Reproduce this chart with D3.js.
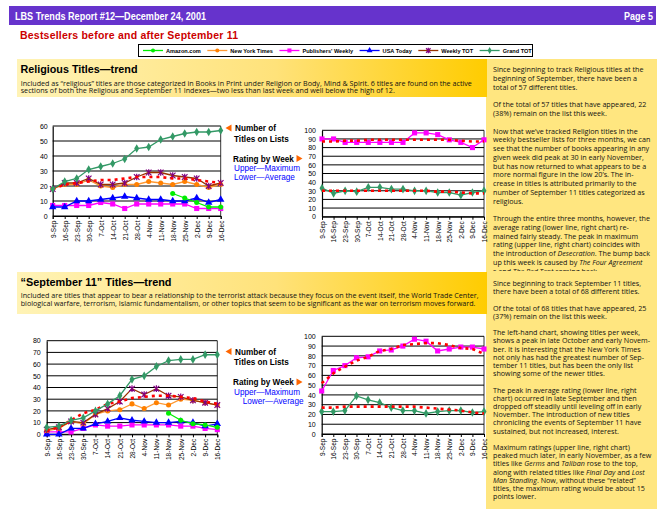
<!DOCTYPE html>
<html><head><meta charset="utf-8">
<script src="https://cdn.jsdelivr.net/npm/d3@7"></script>
<style>body{margin:0;background:#fff}svg{display:block}</style>
</head><body>
<svg id="page" width="661" height="513"></svg>
<script>
// ---------------- DATA ----------------
const weeks = ["9-Sep","16-Sep","23-Sep","30-Sep","7-Oct","14-Oct","21-Oct","28-Oct","4-Nov","11-Nov","18-Nov","25-Nov","2-Dec","9-Dec","16-Dec"];
const N = null;
const seriesNames = ["Amazon.com","New York Times","Publishers' Weekly","USA Today","Weekly TOT","Grand TOT"];

// Religious titles: number of titles on lists
const relAmazon = [N,N,N,N,N,N,N,N,N,N,15,12,9,6,6];
const relNYT    = [18,21,21,24,20,19,21,21,23,22,21,23,21,19,21];
const relPW     = [7,7,7,7,9,8,5,8,8,8,8,8,5,5,5];
const relUSA    = [6,6,10,10,11,12,13,12,11,11,10,10,12,9,11];
const relWeekly = [18,22,22,25,21,21,22,26,29,29,27,26,25,20,22];
const relGrand  = [18,23,25,31,33,35,38,45,46,51,53,55,56,56,57];
const relTrend  = [18,21,22,23,24,24,25,26,26,26,25,25,24,23,22];
// Religious titles: rating by week
const relMax      = [90,90,86,86,86,86,86,86,97,97,95,89,86,80,89];
const relMaxTrend = [87,87,88,88,89,89,89,89,89,89,89,89,88,87,87];
const relAvg      = [33,27,30,29,34,34,32,32,30,30,28,28,25,28,30];
const relAvgTrend = [30,30,30,30,30,30,30,30,30,30,29,29,28,27,27];

// September 11 titles: number of titles on lists
const s11Amazon = [N,N,N,N,N,N,N,N,N,N,18,12,9,8,6];
const s11NYT    = [3,5,11,9,17,20,21,26,22,27,25,30,29,27,25];
const s11PW     = [2,2,2,5,8,7,7,8,8,8,8,7,7,5,4];
const s11USA    = [0,0,5,5,9,11,14,12,11,10,10,11,10,7,9];
const s11Weekly = [4,6,11,10,17,22,28,39,34,39,33,32,29,27,25];
const s11Grand  = [6,7,12,14,20,26,33,47,50,58,63,64,64,68,68];
const s11Trend  = [3,6,12,18,21,26,28,31,32,33,33,32,31,28,26];
// September 11 titles: rating by week
const s11Max      = [44,65,70,78,79,85,86,90,97,95,85,87,89,89,87];
const s11MaxTrend = [52,62,69,75,79,85,87,91,92,93,93,91,88,87,82];
const s11Avg      = [23,23,24,39,35,32,27,24,24,21,23,24,24,22,23];
const s11AvgTrend = [27,27,28,28,28,28,28,28,28,27,26,25,24,22,21];

// Text
const pageTitle = "LBS Trends Report #12\u2014December 24, 2001";
const pageNo = "Page 5";
const mainTitle = "Bestsellers before and after September 11";
const sec1Title = "Religious Titles\u2014trend";
const sec1Desc = ["Included as \u201creligious\u201d titles are those categorized in Books in Print under Religion or Body, Mind & Spirit. 6 titles are found on the active",
  "sections of both the Religious and September 11 Indexes\u2014two less than last week and well below the high of 12."];
const sec2Title = "\u201cSeptember 11\u201d Titles\u2014trend";
const sec2Desc = ["Included are titles that appear to bear a relationship to the terrorist attack because they focus on the event itself, the World Trade Center,",
  "biological warfare, terrorism, Islamic fundamentalism, or other topics that seem to be significant as the war on terrorism moves forward."];
const side1 = [
 "Since beginning to track Religious titles at the","beginning of September, there have been a","total of 57 different titles.","",
 "Of the total of 57 titles that have appeared, 22","(38%) remain on the list this week.","",
 "Now that we\u2019ve tracked Religion titles in the","weekly bestseller lists for three months, we can","see that the number of books appearing in any","given week did peak at 30 in early November,","but has now returned to what appears to be a","more normal figure in the low 20\u2019s. The in-","crease in titles is attributed primarily to the","number of September 11 titles categorized as","religious.","",
 "Through the entire three months, however, the","average rating (lower line, right chart) re-","mained fairly steady. The peak in maximum","rating (upper line, right chart) coincides with","the introduction of *Desecration*. The bump back","up this week is caused by *The Four Agreement*","s and *The Red Tent* coming back."];
const side2 = [
 "Since beginning to track September 11 titles,","there have been a total of 68 different titles.","",
 "Of the total of 68 titles that have appeared, 25","(37%) remain on the list this week.","",
 "The left-hand chart, showing titles per week,","shows a peak in late October and early Novem-","ber. It is interesting that the New York Times","not only has had the greatest number of Sep-","tember 11 titles, but has been the only list","showing some of the newer titles.","",
 "The peak in average rating (lower line, right","chart) occurred in late September and then","dropped off steadily until leveling off in early","November.  The introduction of new titles","chronicling the events of September 11 have","sustained, but not increased, interest.","",
 "Maximum ratings (upper line, right chart)","peaked much later, in early November, as a few","titles like *Germs* and *Taliban* rose to the top,","along with related titles like *Final Day* and *Lost*","*Man Standing*.  Now, without these \u201crelated\u201d","titles, the maximum rating would be about 15","points lower."];
const lblNumber = ["Number of","Titles on Lists"];
const lblRating = "Rating by Week";
const lblUpper = "Upper\u2014Maximum";
const lblLower = "Lower\u2014Average";

// ---------------- STYLES ----------------
const ARIAL = "'Liberation Sans', Arial, sans-serif";
const BODY = "'Open Sans', Lato, sans-serif";
const styles = {
  amazon:{color:"#00EE00", marker:"circle", mcolor:"#00EE00"},
  nyt:{color:"#FF9933", marker:"circle", mcolor:"#FF8000"},
  pw:{color:"#FF00FF", marker:"square", mcolor:"#FF00FF"},
  usa:{color:"#0000FF", marker:"triangle", mcolor:"#0000FF"},
  weekly:{color:"#993300", marker:"star", mcolor:"#800080"},
  grand:{color:"#339966", marker:"diamond", mcolor:"#339966"},
  trend:{color:"#FF0000", marker:null, dash:"3,4", width:2.6}
};
const legendKeys = ["amazon","nyt","pw","usa","weekly","grand"];

const page = d3.select("#page");
const defs = page.append("defs");
const grad = defs.append("linearGradient").attr("id","hdrGrad").attr("x1","0").attr("x2","1").attr("y1","0").attr("y2","0");
grad.append("stop").attr("offset","0").attr("stop-color","#FFF3B6");
grad.append("stop").attr("offset","0.55").attr("stop-color","#FFE27A");
grad.append("stop").attr("offset","1").attr("stop-color","#FFCC00");
defs.append("clipPath").attr("id","clip1").append("rect").attr("x",486).attr("y",59).attr("width",171).attr("height",212);

// ---------------- HEADER ----------------
page.append("rect").attr("x",9).attr("y",6).attr("width",647).attr("height",19).attr("fill","#6633CC");
page.append("text").attr("x",15).attr("y",19.5).attr("font-family",ARIAL).attr("font-weight","bold").attr("font-size",11)
  .attr("fill","#fff").attr("textLength",191).attr("lengthAdjust","spacingAndGlyphs").text(pageTitle);
page.append("text").attr("x",624).attr("y",19.5).attr("font-family",ARIAL).attr("font-weight","bold").attr("font-size",11)
  .attr("fill","#fff").attr("textLength",29).attr("lengthAdjust","spacingAndGlyphs").text(pageNo);
page.append("text").attr("x",20).attr("y",39).attr("font-family",ARIAL).attr("font-weight","bold").attr("font-size",10.5)
  .attr("fill","#CC0000").attr("textLength",218).attr("lengthAdjust","spacing").text(mainTitle);

// ---------------- MARKERS ----------------
function marker(g, type, color, cx, cy, k){
  if(!type) return;
  k = k || 1;
  if(type==="star"){
    const r=2.8*k;
    g.append("path").attr("d",`M${cx-r},${cy-r}L${cx+r},${cy+r}M${cx-r},${cy+r}L${cx+r},${cy-r}M${cx},${cy-r-0.5}L${cx},${cy+r+0.5}`)
      .attr("stroke",color).attr("stroke-width",1.2).attr("fill","none");
    return;
  }
  const sym = {circle:[d3.symbolCircle,20],square:[d3.symbolSquare,26],triangle:[d3.symbolTriangle,24],diamond:[d3.symbolDiamond,22]}[type];
  g.append("path").attr("d",d3.symbol().type(sym[0]).size(sym[1]*k*k)()).attr("transform",`translate(${cx},${cy})`).attr("fill",color);
}

// ---------------- LEGEND ----------------
const leg = page.append("g");
leg.append("rect").attr("x",138.5).attr("y",44.5).attr("width",394).attr("height",12).attr("fill","#fff").attr("stroke","#000");
let lx = 143;
legendKeys.forEach((k,i)=>{
  const st = styles[k];
  leg.append("line").attr("x1",lx).attr("x2",lx+20).attr("y1",50.5).attr("y2",50.5).attr("stroke",st.color).attr("stroke-width",1.3);
  marker(leg, st.marker, st.mcolor, lx+10, 50.5, 0.8);
  const t = leg.append("text").attr("x",lx+23).attr("y",52.6).attr("font-family",ARIAL).attr("font-weight","bold").attr("font-size",5.6).attr("fill","#000").text(seriesNames[i]);
  lx = lx + 23 + t.node().getComputedTextLength() + 6.5;
});

// ---------------- SECTION HEADERS & SIDE COLUMN ----------------
page.append("rect").attr("x",486).attr("y",59).attr("width",171).attr("height",450).attr("fill","#FFE680");
function measure(str, size){
  const t = page.append("text").attr("font-family",BODY).attr("font-size",size).text(str);
  const w = t.node().getComputedTextLength(); t.remove(); return w;
}
const DESC_FS = 7.2;
function section(y, h, title, titleW, desc, descY, firstW){
  page.append("rect").attr("x",17).attr("y",y).attr("width",470).attr("height",h).attr("fill","url(#hdrGrad)");
  page.append("text").attr("x",20.5).attr("y",y+13.5).attr("font-family",ARIAL).attr("font-weight","bold").attr("font-size",11.5)
    .attr("fill","#000").attr("textLength",titleW).attr("lengthAdjust","spacingAndGlyphs").text(title);
  const s = firstW/measure(desc[0], DESC_FS);
  const g = page.append("g").attr("transform",`translate(20.7,0) scale(${s},1)`);
  desc.forEach((line,i)=>{
    g.append("text").attr("x",0).attr("y",descY[i]).attr("font-family",BODY).attr("font-size",DESC_FS).attr("fill","#111").text(line);
  });
}
section(59, 38, sec1Title, 117, sec1Desc, [86, 93.5], 451);
section(272, 42, sec2Title, 151, sec2Desc, [298, 306.5], 458);

const SIDE_FS = 7.4;
const sideScale = 150.7/measure(side1[0],SIDE_FS);
function sidePara(lines, y0, lh, clip){
  const g = page.append("g");
  if(clip) g.attr("clip-path","url(#clip1)");
  const gi = g.append("g").attr("transform",`translate(493,0) scale(${sideScale},1)`);
  lines.forEach((ln,i)=>{
    if(!ln) return;
    const t = gi.append("text").attr("x",0).attr("y",y0+i*lh).attr("font-family",BODY).attr("font-size",SIDE_FS).attr("fill","#111");
    ln.split("*").forEach((p,j)=>{ if(p) t.append("tspan").attr("font-style", j%2?"italic":null).text(p); });
  });
}
sidePara(side1, 72.5, 8.75, true);
sidePara(side2, 286, 8.2, false);

// ---------------- CHARTS ----------------
function chart(cfg){
  const g = page.append("g");
  const x = d3.scalePoint().domain(weeks).range([cfg.x0, cfg.x1]);
  const y = d3.scaleLinear().domain([0,cfg.max]).range([cfg.yBot, cfg.yTop]);
  const ticks = d3.range(0, cfg.max+0.001, cfg.step);
  g.selectAll("line.grid").data(ticks).join("line").attr("class","grid")
    .attr("x1",cfg.x0).attr("x2",cfg.x1).attr("y1",d=>y(d)).attr("y2",d=>y(d)).attr("stroke","#000").attr("stroke-width",1);
  g.append("line").attr("x1",cfg.x1).attr("x2",cfg.x1).attr("y1",cfg.yTop).attr("y2",cfg.yBot).attr("stroke","#000").attr("stroke-width",0.8);
  const ya = g.append("g").attr("transform",`translate(${cfg.x0},0)`).call(d3.axisLeft(y).tickValues(ticks).tickSize(0).tickPadding(cfg.pad));
  ya.select(".domain").attr("stroke","#000").attr("stroke-width",1.2);
  ya.selectAll("text").attr("font-family",ARIAL).attr("font-size",7).attr("fill","#000");
  const xa = g.append("g").attr("transform",`translate(0,${cfg.yBot})`).call(d3.axisBottom(x).tickSize(3));
  xa.select(".domain").attr("stroke","#000");
  xa.selectAll(".tick line").attr("stroke","#000");
  xa.selectAll("text").attr("transform","rotate(-90)").attr("text-anchor","end").attr("x",-4.5).attr("y",0).attr("dy","0.35em")
    .attr("font-family",ARIAL).attr("font-size",6.6).attr("fill","#000");
  const line = d3.line().defined(d=>d!=null).x((d,i)=>x(weeks[i])).y(d=>y(d));
  cfg.series.forEach(s=>{
    const st = styles[s.style];
    g.append("path").attr("d",line(s.values)).attr("fill","none").attr("stroke",st.color)
      .attr("stroke-width",st.width||1.3).attr("stroke-dasharray",st.dash||null);
    s.values.forEach((v,i)=>{ if(v!=null) marker(g, st.marker, st.mcolor, x(weeks[i]), y(v)); });
  });
}

chart({x0:52.7,x1:220.7,yTop:126,yBot:216,max:60,step:10,pad:5,series:[
  {values:relPW,style:"pw"},{values:relUSA,style:"usa"},{values:relNYT,style:"nyt"},
  {values:relWeekly,style:"weekly"},{values:relTrend,style:"trend"},{values:relAmazon,style:"amazon"},{values:relGrand,style:"grand"}]});
chart({x0:322,x1:484,yTop:130.3,yBot:216.7,max:100,step:10,pad:6,series:[
  {values:relMax,style:"pw"},{values:relAvg,style:"grand"},{values:relMaxTrend,style:"trend"},{values:relAvgTrend,style:"trend"}]});
chart({x0:46.7,x1:217.3,yTop:340.7,yBot:434.3,max:80,step:10,pad:6,series:[
  {values:s11PW,style:"pw"},{values:s11USA,style:"usa"},{values:s11NYT,style:"nyt"},
  {values:s11Weekly,style:"weekly"},{values:s11Trend,style:"trend"},{values:s11Amazon,style:"amazon"},{values:s11Grand,style:"grand"}]});
chart({x0:321.7,x1:484,yTop:336.3,yBot:434,max:100,step:10,pad:6,series:[
  {values:s11Max,style:"pw"},{values:s11Avg,style:"grand"},{values:s11MaxTrend,style:"trend"},{values:s11AvgTrend,style:"trend"}]});

// ---------------- SIDE LABELS ----------------
function sideLabels(yNum, yRate, lowerX){
  const g = page.append("g").attr("font-family",ARIAL).attr("font-size",8.2);
  g.append("path").attr("d",`M225.5,${yNum-3}L231.5,${yNum-6.5}L231.5,${yNum+0.5}Z`).attr("fill","#FF6600");
  g.append("text").attr("x",235).attr("y",yNum).attr("font-weight","bold").text(lblNumber[0]);
  g.append("text").attr("x",234).attr("y",yNum+10.5).attr("font-weight","bold").text(lblNumber[1]);
  g.append("text").attr("x",233).attr("y",yRate).attr("font-weight","bold").text(lblRating);
  g.append("path").attr("d",`M296.5,${yRate-6.5}L302.5,${yRate-3}L296.5,${yRate+0.5}Z`).attr("fill","#FF6600");
  g.append("text").attr("x",234).attr("y",yRate+9.5).attr("fill","#0000FF").text(lblUpper);
  g.append("text").attr("x",lowerX).attr("y",yRate+18.8).attr("fill","#0000FF").text(lblLower);
}
sideLabels(131, 161.5, 234);
sideLabels(354.5, 385, 242.7);
</script>
</body></html>
